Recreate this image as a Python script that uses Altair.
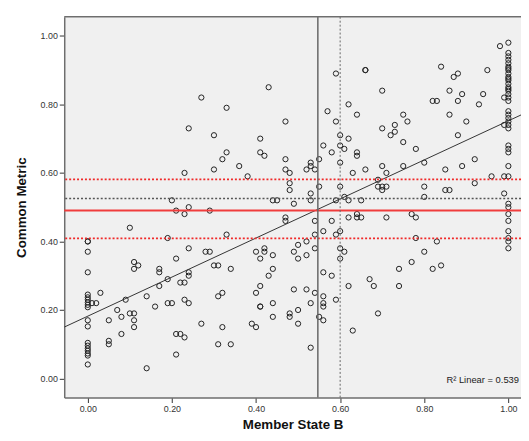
import altair as alt
import pandas as pd

# x positions (Member State B) and the Common Metric values found at each
x_columns = [0.00, 0.01, 0.02, 0.03, 0.05, 0.07, 0.08, 0.09, 0.10, 0.11, 0.12, 0.14, 0.16, 0.17,
             0.19, 0.20, 0.21, 0.22, 0.23, 0.24, 0.27, 0.28, 0.29, 0.30, 0.31, 0.32, 0.33, 0.34,
             0.36, 0.38, 0.39, 0.40, 0.41, 0.42, 0.43, 0.44, 0.45, 0.47, 0.48, 0.49, 0.50, 0.52,
             0.53, 0.54, 0.55, 0.56, 0.57, 0.58, 0.59, 0.60, 0.61, 0.62, 0.63, 0.64, 0.65, 0.66,
             0.67, 0.68, 0.69, 0.70, 0.71, 0.72, 0.73, 0.74, 0.75, 0.76, 0.77, 0.78, 0.80, 0.82,
             0.83, 0.84, 0.85, 0.86, 0.87, 0.88, 0.89, 0.90, 0.92, 0.93, 0.94, 0.95, 0.96, 0.98,
             0.99, 1.00]

y_by_column = [
    [0.40, 0.40, 0.37, 0.31, 0.245, 0.237, 0.23, 0.222, 0.215, 0.208, 0.17, 0.152, 0.104, 0.096,
     0.088, 0.081, 0.073, 0.067, 0.041],
    [0.22], [0.22], [0.25], [0.17, 0.11, 0.10], [0.20], [0.18, 0.13], [0.23], [0.44, 0.19],
    [0.34, 0.32, 0.19, 0.17, 0.15], [0.33], [0.24, 0.03], [0.21], [0.32, 0.31, 0.27],
    [0.41, 0.29, 0.22], [0.52, 0.22], [0.49, 0.35, 0.13, 0.07], [0.28, 0.13],
    [0.60, 0.48, 0.28, 0.23, 0.12], [0.73, 0.50, 0.38, 0.31, 0.30, 0.22], [0.82, 0.16], [0.37],
    [0.49, 0.37], [0.71, 0.61, 0.33], [0.33, 0.24, 0.10], [0.64, 0.25, 0.15], [0.79, 0.66, 0.42],
    [0.32, 0.10], [0.62], [0.59], [0.16], [0.37, 0.25, 0.15], [0.70, 0.66, 0.35, 0.27, 0.21, 0.21],
    [0.65, 0.38, 0.37], [0.85, 0.30], [0.52, 0.36, 0.32, 0.22, 0.18], [0.52],
    [0.75, 0.64, 0.61, 0.47, 0.46], [0.60, 0.57, 0.55, 0.19, 0.18], [0.51, 0.37, 0.26],
    [0.39, 0.35, 0.20, 0.16], [0.61, 0.40, 0.36, 0.26], [0.63, 0.62, 0.54, 0.52, 0.22, 0.09],
    [0.61, 0.46, 0.42, 0.38, 0.25], [0.64, 0.56, 0.18], [0.68, 0.43, 0.31, 0.24, 0.22, 0.21, 0.17],
    [0.78], [0.66, 0.46, 0.30], [0.89, 0.75, 0.52, 0.42, 0.23],
    [0.71, 0.68, 0.63, 0.56, 0.43, 0.38, 0.35], [0.67, 0.53, 0.37], [0.80, 0.70, 0.52, 0.47, 0.27],
    [0.60, 0.14], [0.77, 0.66, 0.65, 0.48, 0.47], [0.52, 0.47], [0.90, 0.90, 0.61], [0.29], [0.27],
    [0.58, 0.56, 0.19], [0.84, 0.73, 0.62, 0.56, 0.55], [0.60, 0.56, 0.47], [0.71], [0.74, 0.72],
    [0.32, 0.27], [0.77, 0.69, 0.62], [0.75], [0.48, 0.34], [0.67, 0.47, 0.41],
    [0.63, 0.56, 0.53, 0.37], [0.81, 0.32], [0.81, 0.40], [0.91, 0.33], [0.61, 0.55],
    [0.84, 0.77, 0.55], [0.88], [0.89, 0.81, 0.71], [0.83, 0.62], [0.75], [0.64, 0.57], [0.80],
    [0.83], [0.90], [0.59], [0.97], [0.82, 0.74, 0.59, 0.54],
    [0.98, 0.95, 0.94, 0.93, 0.92, 0.91, 0.905, 0.90, 0.89, 0.88, 0.875, 0.87, 0.86, 0.85, 0.845,
     0.84, 0.83, 0.82, 0.81, 0.78, 0.77, 0.76, 0.75, 0.74, 0.73, 0.68, 0.67, 0.66, 0.62, 0.59,
     0.51, 0.50, 0.48, 0.46, 0.43, 0.41, 0.40, 0.38],
]

# fit line and reference lines
fit_intercept = 0.182
fit_slope = 0.570
r2_label = "R\u00b2 Linear = 0.539"
mean_x = [0.547]
cut_x = [0.60]
mean_y = [0.490]
band_y = [0.409, 0.581]
cut_y = [0.525]

x_domain = [-0.056, 1.03]
y_domain = [-0.0556, 1.0556]
tick_values = [0.0, 0.2, 0.4, 0.6, 0.8, 1.0]

rows = [{"b": x, "m": y} for x, ys in zip(x_columns, y_by_column) for y in ys]
points_df = pd.DataFrame(rows)
fit_df = pd.DataFrame({"b": x_domain, "m": [fit_intercept + fit_slope * v for v in x_domain]})

W, H = 463, 386
xs = alt.Scale(domain=x_domain, nice=False, zero=False)
ys = alt.Scale(domain=y_domain, nice=False, zero=False)

x_axis = alt.Axis(title="Member State B", orient="bottom", values=tick_values, format=".2f",
                  titlePadding=4)
y_axis = alt.Axis(title="Common Metric", orient="left", values=tick_values, format=".2f",
                  titlePadding=12)

points = alt.Chart(points_df).mark_point(
    shape="circle", filled=False, size=28, stroke="#222222", strokeWidth=1, opacity=1
).encode(
    x=alt.X("b:Q", scale=xs, axis=x_axis),
    y=alt.Y("m:Q", scale=ys, axis=y_axis),
)

fit = alt.Chart(fit_df).mark_line(color="#333333", strokeWidth=1, clip=True).encode(
    x=alt.X("b:Q", scale=xs),
    y=alt.Y("m:Q", scale=ys),
)

def hrule(vals, color, width, dash=None):
    kw = dict(color=color, strokeWidth=width)
    if dash:
        kw["strokeDash"] = dash
    return alt.Chart(pd.DataFrame({"m": vals})).mark_rule(**kw).encode(
        y=alt.Y("m:Q", scale=ys))

def vrule(vals, color, width, dash=None):
    kw = dict(color=color, strokeWidth=width)
    if dash:
        kw["strokeDash"] = dash
    return alt.Chart(pd.DataFrame({"b": vals})).mark_rule(**kw).encode(
        x=alt.X("b:Q", scale=xs))

rules = [
    hrule(band_y, "#f02828", 1.8, [2, 2]),
    hrule(cut_y, "#555555", 1.5, [2, 2]),
    hrule(mean_y, "#f03c3c", 2),
    vrule(mean_x, "#666666", 1.5),
    vrule(cut_x, "#666666", 1, [2, 2]),
]

# top edge of the frame (the right edge is cropped off in the reference)
top_border = alt.Chart(pd.DataFrame({"k": [0]})).mark_rule(
    color="#6e6e6e", strokeWidth=1.5
).encode(x=alt.value(0), x2=alt.value(W), y=alt.value(0))

label = alt.Chart(pd.DataFrame({"t": [r2_label]})).mark_text(
    align="right", baseline="middle", fontSize=9.5, font="Liberation Sans", color="#222222"
).encode(x=alt.value(461), y=alt.value(368), text="t:N")

chart = alt.layer(points, fit, *rules, top_border, label).properties(
    width=W, height=H,
    autosize=alt.AutoSizeParams(type="none"),
    padding={"left": 57, "top": 6, "right": 0, "bottom": 33},
    background="white",
).configure_view(
    fill="#f0f0f0", stroke="transparent"
).configure_axis(
    labelFont="Liberation Sans", titleFont="Liberation Sans", labelFontSize=9,
    labelColor="#333333", titleFontSize=13.5, titleFontWeight="bold", titleColor="#111111",
    domainColor="#6e6e6e", domainWidth=1.5, tickColor="#333333", tickSize=5, tickWidth=1,
    grid=False, labelPadding=2,
)

chart.save("out.html", embed_options={"renderer": "svg", "actions": False})
